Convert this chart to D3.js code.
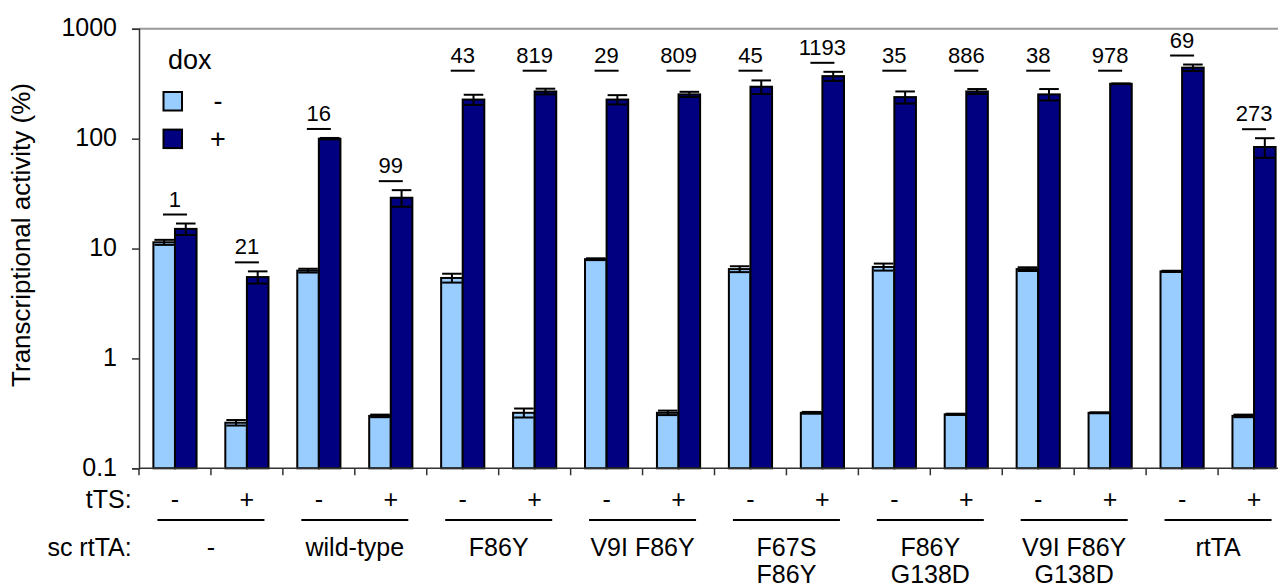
<!DOCTYPE html>
<html>
<head>
<meta charset="utf-8">
<script src="https://cdn.jsdelivr.net/npm/d3@7"></script>
<style>
  html, body { margin: 0; padding: 0; background: #fff; }
  svg { display: block; font-family: "Liberation Sans", Arial, sans-serif; }
</style>
</head>
<body>
<svg id="chart" width="1278" height="588"></svg>
<script>
// ---- data ----
const constructs = [["-"], ["wild-type"], ["F86Y"], ["V9I F86Y"], ["F67S", "F86Y"], ["F86Y", "G138D"], ["V9I F86Y", "G138D"], ["rtTA"]];
const tTS = ["-", "+"];
const doxMinus    = [11.4, 0.26, 6.3, 0.30, 5.4, 0.32, 8.0, 0.32, 6.5, 0.32, 6.8, 0.31, 6.5, 0.32, 6.2, 0.30];
const doxMinusErr = [0.6, 0.015, 0.25, 0.008, 0.5, 0.03, 0.15, 0.015, 0.4, 0.006, 0.5, 0.004, 0.25, 0.003, 0.08, 0.008];
const doxPlus     = [15.1, 5.5, 100, 29, 227, 269, 227, 253, 297, 371, 239, 269, 253, 316, 443, 84];
const doxPlusErr  = [1.8, 0.7, 1.5, 5, 24, 16, 22, 14, 42, 35, 30, 14, 30, 2, 30, 17];
const foldLabels  = ["1", "21", "16", "99", "43", "819", "29", "809", "45", "1193", "35", "886", "38", "978", "69", "273"];
const yTicks = [0.1, 1, 10, 100, 1000];
const legendLabels = ["-", "+"];

const colors = { minus: "#99CCFF", plus: "#000080" };

// ---- layout ----
const svg = d3.select("#chart");
const plotLeft = 139, plotRight = 1290, plotTop = 28.8, plotBottom = 468.3;

const slots = d3.range(doxMinus.length);
const x = d3.scaleBand().domain(slots).range([plotLeft, plotRight]).paddingInner(0.4).paddingOuter(0.2);
const xs = d3.scaleBand().domain(["minus", "plus"]).range([0, x.bandwidth()]);
const y = d3.scaleLog().domain([0.1, 1000]).range([plotBottom, plotTop]);
const step = x.step();
const slotCenter = i => x(i) + x.bandwidth() / 2;

// plot area top border
svg.append("line").attr("x1", plotLeft).attr("x2", 1278).attr("y1", plotTop).attr("y2", plotTop)
  .attr("stroke", "#999").attr("stroke-width", 2);

// bars
const rows = slots.map(i => ({
  i,
  vals: [
    { key: "minus", v: doxMinus[i], e: doxMinusErr[i] },
    { key: "plus", v: doxPlus[i], e: doxPlusErr[i] }
  ]
}));

const g = svg.append("g");
const slotG = g.selectAll("g.slot").data(rows).join("g").attr("class", "slot")
  .attr("transform", d => `translate(${x(d.i)},0)`);

slotG.selectAll("rect").data(d => d.vals).join("rect")
  .attr("x", d => xs(d.key))
  .attr("width", xs.bandwidth())
  .attr("y", d => y(d.v))
  .attr("height", d => y(0.1) - y(d.v))
  .attr("fill", d => colors[d.key])
  .attr("stroke", "#000").attr("stroke-width", 2);

// error bars
const eb = slotG.selectAll("g.err").data(d => d.vals).join("g").attr("class", "err");
eb.append("line")
  .attr("x1", d => xs(d.key) + xs.bandwidth() / 2).attr("x2", d => xs(d.key) + xs.bandwidth() / 2)
  .attr("y1", d => y(d.v - d.e)).attr("y2", d => y(d.v + d.e))
  .attr("stroke", "#000").attr("stroke-width", 2);
eb.append("line")
  .attr("x1", d => xs(d.key) + 1).attr("x2", d => xs(d.key) + xs.bandwidth() - 1)
  .attr("y1", d => y(d.v + d.e)).attr("y2", d => y(d.v + d.e))
  .attr("stroke", "#000").attr("stroke-width", 2);
eb.append("line")
  .attr("x1", d => xs(d.key) + 1).attr("x2", d => xs(d.key) + xs.bandwidth() - 1)
  .attr("y1", d => y(d.v - d.e)).attr("y2", d => y(d.v - d.e))
  .attr("stroke", "#000").attr("stroke-width", 2);

// fold-change annotations: just above the highest error cap,
// but aligned on a common row when the bars reach near the top
const rowY = 70.7;
const annG = svg.append("g");
slots.forEach(i => {
  const capTop = Math.min(y(doxMinus[i] + doxMinusErr[i]), y(doxPlus[i] + doxPlusErr[i]));
  let ly = capTop - 9;
  if (ly < 110) ly = Math.min(ly, rowY);
  const cx = slotCenter(i);
  annG.append("line").attr("x1", cx - 12).attr("x2", cx + 12).attr("y1", ly).attr("y2", ly)
    .attr("stroke", "#000").attr("stroke-width", 2);
  annG.append("text").attr("x", cx).attr("y", ly - 8).attr("text-anchor", "middle")
    .attr("font-size", 22).text(foldLabels[i]);
});

// y axis
const yAxis = d3.axisLeft(y).tickValues(yTicks).tickSize(7).tickPadding(15)
  .tickFormat(d => d3.format("~g")(d));
const ya = svg.append("g").attr("transform", `translate(${plotLeft},0)`).call(yAxis);
ya.select(".domain").attr("stroke", "#333").attr("stroke-width", 1.5);
ya.selectAll(".tick line").attr("stroke", "#333").attr("stroke-width", 1.5);
ya.selectAll(".tick text").attr("font-size", 25).attr("font-family", "Liberation Sans, Arial, sans-serif")
  .attr("fill", "#000").attr("dy", "0.28em");

// x axis (category boundaries)
const xa = svg.append("g").attr("transform", `translate(0,${plotBottom})`);
xa.append("line").attr("x1", plotLeft).attr("x2", 1278).attr("y1", 0).attr("y2", 0)
  .attr("stroke", "#333").attr("stroke-width", 1.5);
xa.selectAll("line.tk").data(slots).join("line").attr("class", "tk")
  .attr("x1", i => x(i) - step * 0.2).attr("x2", i => x(i) - step * 0.2)
  .attr("y1", 0).attr("y2", 7).attr("stroke", "#333").attr("stroke-width", 1.5);

// tTS row
svg.selectAll("text.tts").data(slots).join("text").attr("class", "tts")
  .attr("x", i => slotCenter(i)).attr("y", 507.7).attr("text-anchor", "middle")
  .attr("font-size", 25).text(i => tTS[i % 2]);
svg.append("text").attr("x", 131.7).attr("y", 507.7).attr("text-anchor", "end")
  .attr("font-size", 25).text("tTS:");

// construct groups
constructs.forEach((lines, gi) => {
  const cx = (slotCenter(2 * gi) + slotCenter(2 * gi + 1)) / 2;
  svg.append("line").attr("x1", cx - 53.5).attr("x2", cx + 53.5).attr("y1", 520).attr("y2", 520)
    .attr("stroke", "#000").attr("stroke-width", 2);
  lines.forEach((ln, li) => {
    svg.append("text").attr("x", cx).attr("y", 555.5 + li * 27).attr("text-anchor", "middle")
      .attr("font-size", 25).text(ln);
  });
});
svg.append("text").attr("x", 131.7).attr("y", 555.5).attr("text-anchor", "end")
  .attr("font-size", 25).text("sc rtTA:");

// y axis title
svg.append("text").attr("transform", "translate(30,235) rotate(-90)")
  .attr("text-anchor", "middle").attr("font-size", 26).text("Transcriptional activity (%)");

// legend
svg.append("text").attr("x", 168).attr("y", 69.3).attr("font-size", 27).text("dox");
const legKeys = ["minus", "plus"];
legKeys.forEach((k, li) => {
  const ly = 92 + li * 37.6;
  svg.append("rect").attr("x", 163.5).attr("y", ly).attr("width", 18.5).attr("height", 18.5)
    .attr("fill", colors[k]).attr("stroke", "#000").attr("stroke-width", 2);
  svg.append("text").attr("x", 218).attr("y", ly + 18).attr("text-anchor", "middle")
    .attr("font-size", 27).text(legendLabels[li]);
});
</script>
</body>
</html>
